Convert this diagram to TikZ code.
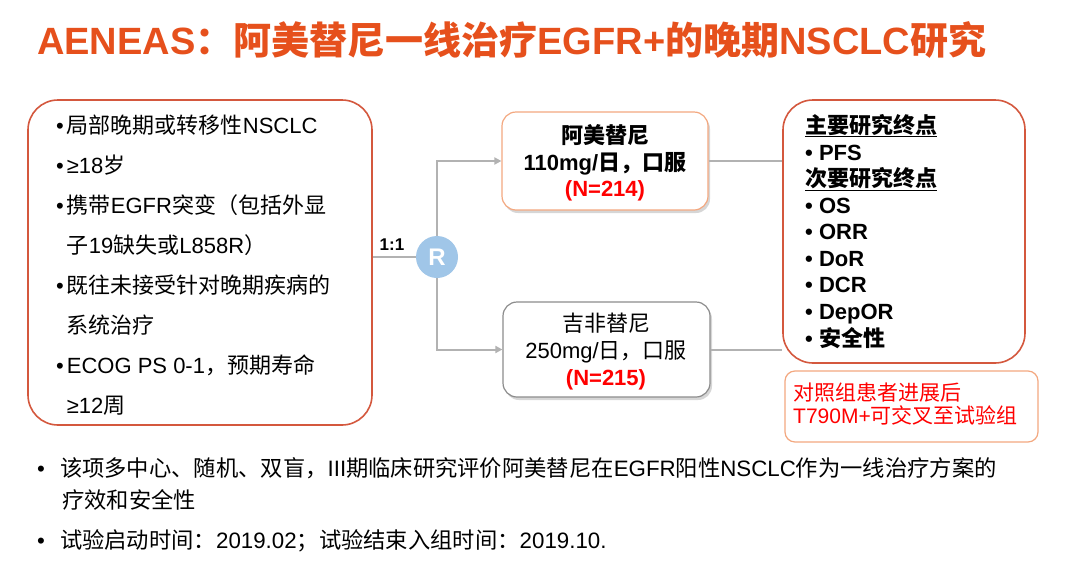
\documentclass[tikz,border=0pt]{standalone}
\usepackage{fontspec}
\setmainfont{Liberation Sans}
\newfontfamily\cjkf{Noto Sans CJK SC}
\newcommand\zh[1]{{\cjkf #1}}
\usetikzlibrary{shadows,arrows.meta}
\definecolor{titleor}{RGB}{230,80,28}
\definecolor{boxor}{RGB}{212,88,62}
\definecolor{lightor}{RGB}{243,168,128}
\definecolor{rblue}{RGB}{160,198,232}
\definecolor{lgrey}{RGB}{178,178,178}
\definecolor{bgrey}{RGB}{140,140,140}
\definecolor{nred}{RGB}{255,0,0}
\tikzset{
  txt/.style={anchor=base west, inner sep=0pt, font=\fontsize{22}{26}\selectfont},
  ctxt/.style={anchor=base, inner sep=0pt, font=\fontsize{22}{26}\selectfont},
  btxt/.style={txt, font=\fontsize{22}{26}\selectfont\bfseries},
  bigbox/.style={draw=boxor, line width=1.6pt, rounded corners=30pt, inner sep=0pt},
  armbox/.style={fill=white, line width=1.2pt, rounded corners=14pt, inner sep=0pt,
     drop shadow={shadow xshift=2pt, shadow yshift=-3pt, opacity=0.35, fill=black!45}},
  conn/.style={draw=lgrey, line width=2pt},
  arr/.style={conn, -{Triangle[length=7pt,width=7pt]}},
}
\begin{document}
\begin{tikzpicture}[x=1pt,y=-1pt]
\useasboundingbox (0,0) rectangle (1080,576);
\fill[white] (0,0) rectangle (1080,576);

% title
\node[anchor=base west, inner sep=0pt, text=titleor, font=\fontsize{38}{42}\selectfont\bfseries] (title) at (37,54)
  {AENEAS\zh{：阿美替尼一线治疗}EGFR+\zh{的晚期}NSCLC\zh{研究}};

% eligibility box
\node[bigbox, minimum width=344pt, minimum height=325pt] (elig) at (200,262.5) {};
\node[txt] (e1) at (56,133) {•\hspace{3pt}\zh{局部晚期或转移性}NSCLC};
\node[txt] (e2) at (56,173) {•\hspace{3pt}≥18\zh{岁}};
\node[txt] (e3) at (56,213) {•\hspace{3pt}\zh{携带}EGFR\zh{突变（包括外显}};
\node[txt] (e4) at (56,253) {\phantom{•}\hspace{3pt}\zh{子}19\zh{缺失或}L858R\zh{）}};
\node[txt] (e5) at (56,293) {•\hspace{3pt}\zh{既往未接受针对晚期疾病的}};
\node[txt] (e6) at (56,333) {\phantom{•}\hspace{3pt}\zh{系统治疗}};
\node[txt] (e7) at (56,373) {•\hspace{3pt}ECOG PS 0-1\zh{，预期寿命}};
\node[txt] (e8) at (56,413) {\phantom{•}\hspace{3pt}≥12\zh{周}};

% randomisation
\node[circle, fill=rblue, minimum size=42pt, inner sep=0pt, text=white, font=\fontsize{24}{24}\selectfont\bfseries] (R) at (437,257) {R};
\node[anchor=base, inner sep=0pt, font=\fontsize{17}{20}\selectfont\bfseries] (ratio) at (392,250) {1:1};

% arms
\node[armbox, draw=lightor, minimum width=206pt, minimum height=98pt] (armA) at (605,161) {};
\node[ctxt, font=\fontsize{22}{26}\selectfont\bfseries] (a1) at (605,143) {\zh{阿美替尼}};
\node[ctxt, font=\fontsize{22}{26}\selectfont\bfseries] (a2) at (605,170) {110mg/\zh{日，口服}};
\node[ctxt, font=\fontsize{22}{26}\selectfont\bfseries, text=nred] (a3) at (605,196) {(N=214)};

\node[armbox, draw=bgrey, minimum width=207pt, minimum height=95pt] (armB) at (606.5,349.5) {};
\node[ctxt] (b1) at (606,331) {\zh{吉非替尼}};
\node[ctxt] (b2) at (606,358) {250mg/\zh{日，口服}};
\node[ctxt, font=\fontsize{22}{26}\selectfont\bfseries, text=nred] (b3) at (606,385) {(N=215)};

% endpoints box
\node[bigbox, minimum width=242pt, minimum height=263pt] (ends) at (904,231.5) {};
\node[btxt] (p0) at (805,133) {\underline{\zh{主要研究终点}}};
\node[btxt] (p1) at (805,160) {• PFS};
\node[btxt] (s0) at (805,186) {\underline{\zh{次要研究终点}}};
\node[btxt] (s1) at (805,213) {• OS};
\node[btxt] (s2) at (805,239) {• ORR};
\node[btxt] (s3) at (805,266) {• DoR};
\node[btxt] (s4) at (805,292) {• DCR};
\node[btxt] (s5) at (805,319) {• DepOR};
\node[btxt] (s6) at (805,346) {• \zh{安全性}};

% crossover note
\node[draw=lightor, line width=1.2pt, rounded corners=10pt, minimum width=253pt, minimum height=71pt, inner sep=0pt] (note) at (911.5,406.5) {};
\node[txt, font=\fontsize{21}{24}\selectfont, text=nred] (n1) at (793,400) {\zh{对照组患者进展后}};
\node[txt, font=\fontsize{21}{24}\selectfont, text=nred] (n2) at (793,423) {T790M+\zh{可交叉至试验组}};

% connectors
\draw[conn] (elig.east |- R.west) -- (R.west);
\draw[arr] (R.north) |- (armA.west);
\draw[arr] (R.south) |- (armB.west);
\draw[conn] (armA.east) -- (armA.east -| ends.west);
\draw[conn] (armB.east) -- (armB.east -| ends.west);

% bottom notes
\node[txt, font=\fontsize{22.3}{26}\selectfont] (m1) at (37,476) {•\hspace{15pt}\zh{该项多中心、随机、双盲，}III\zh{期临床研究评价阿美替尼在}EGFR\zh{阳性}NSCLC\zh{作为一线治疗方案的}};
\node[txt, font=\fontsize{22.3}{26}\selectfont] (m2) at (62,508) {\zh{疗效和安全性}};
\node[txt, font=\fontsize{22.3}{26}\selectfont] (m3) at (37,548) {•\hspace{15pt}\zh{试验启动时间：}2019.02\zh{；试验结束入组时间：}2019.10.};
\end{tikzpicture}
\end{document}
